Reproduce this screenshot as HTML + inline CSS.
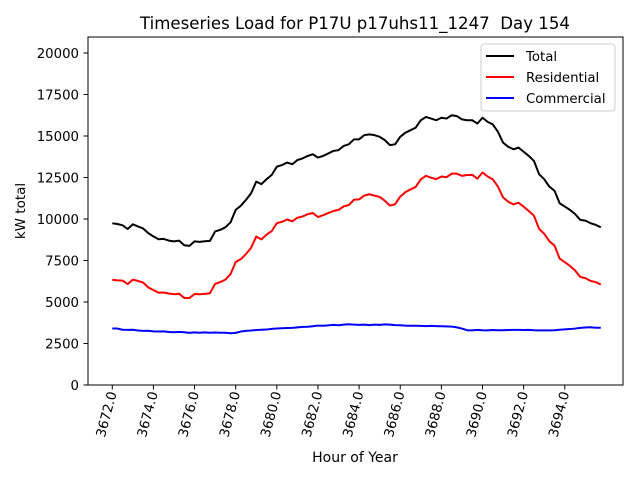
<!DOCTYPE html>
<html><head><meta charset="utf-8"><style>
body{margin:0;background:#fff;}
svg{display:block;font-family:"DejaVu Sans","Liberation Sans",sans-serif;}
</style></head><body>
<svg id="chart" width="640" height="480" xmlns="http://www.w3.org/2000/svg">
<rect width="640" height="480" fill="#fff"/>
<text x="355" y="29" text-anchor="middle" font-size="16.6" style="white-space:pre">Timeseries Load for P17U p17uhs11_1247  Day 154</text>
<g id="plot"></g>
<rect x="88" y="37" width="535" height="348" fill="none" stroke="#000" stroke-width="1"/>
<g id="yticks"></g><g id="xticks"></g>
<text x="355" y="462" text-anchor="middle" font-size="14">Hour of Year</text>
<text transform="translate(25,211) rotate(-90)" text-anchor="middle" font-size="13.5">kW total</text>
<g>
<rect x="481" y="44" width="134" height="67" rx="3" fill="#fff" stroke="#ccc"/>
<g><line x1="486" y1="56" x2="514" y2="56" stroke="#000" stroke-width="2"/><text x="526" y="61" font-size="13.3">Total</text></g>
<g><line x1="486" y1="77" x2="514" y2="77" stroke="red" stroke-width="2"/><text x="526" y="82" font-size="13.3">Residential</text></g>
<g><line x1="486" y1="98" x2="514" y2="98" stroke="blue" stroke-width="2"/><text x="526" y="103" font-size="13.3">Commercial</text></g>
</g>
</svg>
<script>
const total=[9740,9700,9620,9400,9680,9550,9430,9150,8950,8780,8800,8700,8650,8700,8420,8380,8650,8620,8660,8680,9250,9350,9500,9800,10550,10800,11150,11550,12250,12100,12400,12650,13150,13250,13400,13300,13550,13650,13800,13900,13700,13800,13950,14100,14150,14400,14500,14800,14800,15050,15100,15050,14950,14750,14450,14500,14950,15200,15350,15500,15950,16150,16050,15950,16100,16050,16250,16200,16000,15950,15950,15750,16100,15850,15700,15250,14600,14350,14200,14300,14050,13800,13500,12700,12400,11950,11700,10950,10750,10550,10300,9950,9900,9750,9650,9500];
const residential=[6340,6300,6290,6080,6350,6270,6170,5880,5720,5560,5570,5510,5470,5500,5240,5240,5480,5470,5490,5530,6090,6200,6350,6680,7410,7580,7890,8270,8940,8770,9060,9270,9750,9830,9970,9860,10080,10150,10290,10360,10120,10230,10360,10480,10550,10760,10840,11160,11180,11410,11490,11410,11330,11100,10810,10890,11350,11620,11780,11930,12390,12600,12490,12400,12560,12520,12730,12730,12600,12650,12660,12430,12800,12560,12390,11950,11300,11040,10880,10980,10740,10480,10200,9410,9110,8660,8400,7620,7400,7180,6900,6510,6440,6270,6200,6050];
const commercial=[3400,3400,3330,3320,3330,3280,3260,3270,3230,3220,3230,3190,3180,3200,3180,3140,3170,3150,3170,3150,3160,3150,3150,3120,3140,3220,3260,3280,3310,3330,3340,3380,3400,3420,3430,3440,3470,3500,3510,3540,3580,3570,3590,3620,3600,3640,3660,3640,3620,3640,3610,3640,3620,3650,3640,3610,3600,3580,3570,3570,3560,3550,3560,3550,3540,3530,3520,3470,3400,3300,3290,3320,3300,3290,3310,3300,3300,3310,3320,3320,3310,3320,3300,3290,3290,3290,3300,3330,3350,3370,3400,3440,3460,3480,3450,3450];
const startHour=3672, stepHour=0.25;
const xTickValues=[3672,3674,3676,3678,3680,3682,3684,3686,3688,3690,3692,3694];
const yTickValues=[0,2500,5000,7500,10000,12500,15000,17500,20000];
const NS="http://www.w3.org/2000/svg";
const xMin=3670.82,xMax=3696.83,yMin=0,yMax=20964;
function sx(v){return 88+(v-xMin)/(xMax-xMin)*535;}
function sy(v){return 385-(v-yMin)/(yMax-yMin)*348;}
function mk(tag,attrs,parent){const e=document.createElementNS(NS,tag);for(const k in attrs)e.setAttribute(k,attrs[k]);parent.appendChild(e);return e;}
const plot=document.getElementById('plot');
[[total,'#000','total-line'],[residential,'red','residential-line'],[commercial,'blue','commercial-line']].forEach(([arr,col,name])=>{
  const pts=arr.map((v,i)=>sx(startHour+i*stepHour).toFixed(2)+','+sy(v).toFixed(2)).join(' ');
  const pl=mk('polyline',{points:pts,fill:'none',stroke:col,'stroke-width':2,'stroke-linejoin':'round'},plot);
  
  
});
const yt=document.getElementById('yticks');
yTickValues.forEach(v=>{
  const g=mk('g',{},yt);
  
  
  mk('line',{x1:83.5,x2:88,y1:sy(v),y2:sy(v),stroke:'#000'},g);
  const t=mk('text',{x:79,y:sy(v)+4.8,'text-anchor':'end','font-size':13.3},g);
  t.textContent=String(v);
});
const xt=document.getElementById('xticks');
xTickValues.forEach(v=>{
  const g=mk('g',{},xt);
  
  
  const x=sx(v);
  mk('line',{x1:x,x2:x,y1:385,y2:389.5,stroke:'#000'},g);
  const t=mk('text',{transform:`translate(${x+4.5},${393}) rotate(-75)`,'text-anchor':'end','font-size':13.3},g);
  t.textContent=v.toFixed(1);
});
</script>
</body></html>
